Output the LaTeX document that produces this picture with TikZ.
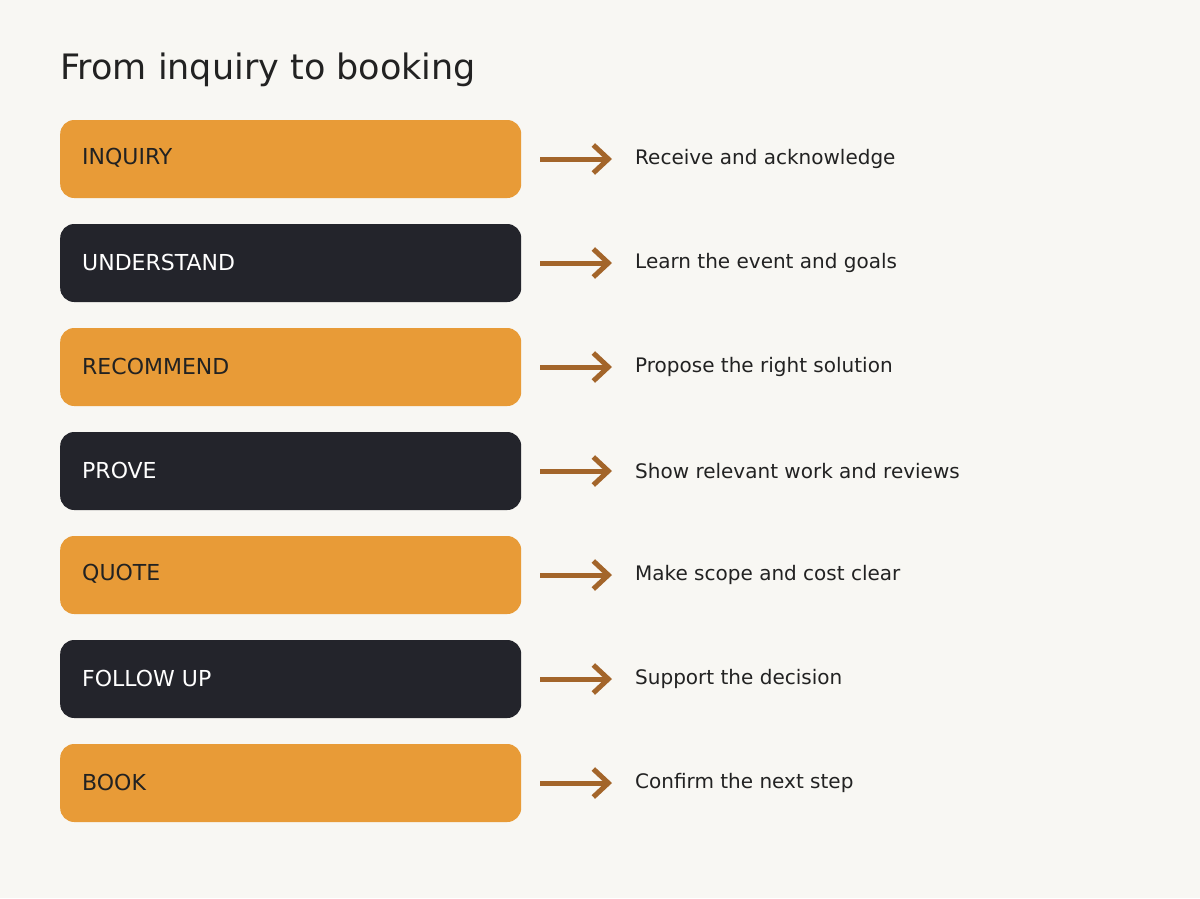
\documentclass[tikz,border=0pt]{standalone}
\usepackage{fontspec}
\setmainfont{DejaVu Sans}
\usetikzlibrary{arrows.meta}
\definecolor{bg}{HTML}{F8F7F3}
\definecolor{orng}{HTML}{E89B37}
\definecolor{drk}{HTML}{23242B}
\definecolor{arr}{HTML}{A3652A}
\definecolor{txt}{HTML}{222222}
\tikzset{
  stepbox/.style={rounded corners=14pt, minimum width=461pt, minimum height=78pt, inner sep=0pt},
  obox/.style={stepbox, fill=orng},
  dbox/.style={stepbox, fill=drk},
  lbl/.style={anchor=west, font=\fontsize{22pt}{26pt}\selectfont, inner sep=0pt},
  desc/.style={anchor=west, font=\fontsize{20pt}{24pt}\selectfont, text=txt, inner sep=0pt},
  conn/.style={draw=arr, line width=5pt, -{Straight Barb[length=15pt, width=28pt, line width=5pt]}},
}
\begin{document}
\begin{tikzpicture}[x=1pt,y=-1pt]
\fill[bg] (0,0) rectangle (1200,898);
\useasboundingbox (0,0) rectangle (1200,898);
\node[anchor=base west, inner sep=0pt, text=txt, font=\fontsize{35pt}{40pt}\selectfont] (title) at (60,79) {From inquiry to booking};
\foreach \i/\lab/\d/\st/\tc in {
  0/INQUIRY/Receive and acknowledge/obox/txt,
  1/UNDERSTAND/Learn the event and goals/dbox/white,
  2/RECOMMEND/Propose the right solution/obox/txt,
  3/PROVE/Show relevant work and reviews/dbox/white,
  4/QUOTE/Make scope and cost clear/obox/txt,
  5/FOLLOW UP/Support the decision/dbox/white,
  6/BOOK/Confirm the next step/obox/txt} {
  \pgfmathsetmacro{\yy}{159+104*\i}
  \node[\st, anchor=west] (b\i) at (60,\yy) {};
  \node[lbl, text=\tc] (l\i) at (82,\yy-1) {\lab};
  \coordinate (s\i) at (540,\yy);
  \coordinate (e\i) at (612,\yy);
  \node[desc] (d\i) at (635,\yy) {\d};
  \draw[conn] (s\i) -- (e\i);
}
\end{tikzpicture}
\end{document}
